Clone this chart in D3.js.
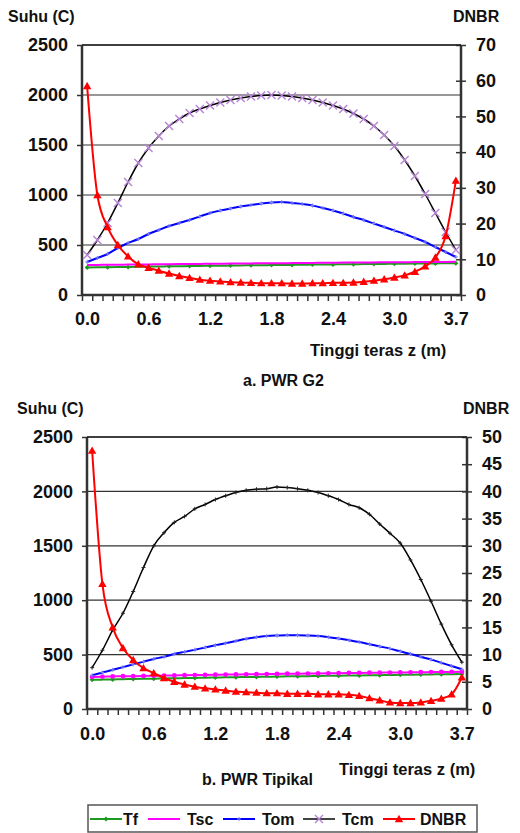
<!DOCTYPE html>
<html>
<head>
<meta charset="utf-8">
<script src="https://cdn.jsdelivr.net/npm/d3@7"></script>
<style>
  body { margin: 0; background: #fff; }
  svg { display: block; font-family: "Liberation Sans", Arial, sans-serif; }
  text { font-weight: bold; fill: #111; }
</style>
</head>
<body>
<div id="chart"></div>
<script>
// node labels on the x axis (every 6th node is labelled)
const xTickNodes = [0, 6, 12, 18, 24, 30, 36];
const xTickLabels = ["0.0", "0.6", "1.2", "1.8", "2.4", "3.0", "3.7"];
const nNodes = 37;

// a. PWR G2
const tfA = [275,277,278,280,281,283,284,285,287,288,289,291,292,293,294,296,297,298,299,300,301,303,304,305,306,307,308,309,310,311,312,313,314,315,316,317,318];
const tscA = [300,301,302,303,304,305,306,307,308,309,310,311,312,313,314,315,316,317,318,318,319,320,321,322,323,324,325,325,326,327,328,328,329,330,331,331,332];
const tomA = [330,370,410,470,520,560,610,650,690,720,750,785,820,845,865,885,900,915,925,930,920,910,895,870,845,815,780,750,715,680,645,610,570,530,480,430,380];
const tcmA = [400,550,720,920,1130,1320,1470,1590,1690,1760,1820,1860,1895,1925,1950,1970,1985,1995,2000,1995,1985,1970,1950,1925,1895,1860,1815,1760,1690,1600,1490,1350,1190,1010,820,630,450];
const dnbrA = [58.5,28,19,14,10.8,8.6,7.6,6.8,6.0,5.3,4.8,4.3,4.0,3.8,3.6,3.5,3.4,3.3,3.3,3.3,3.2,3.2,3.3,3.3,3.4,3.4,3.5,3.7,4.0,4.4,4.9,5.5,6.5,8.0,10.5,16.5,32];

// b. PWR Tipikal
const tfB = [268,270,272,274,276,278,279,281,283,284,286,288,289,291,292,294,295,297,298,300,301,302,304,305,306,308,309,310,311,313,314,315,316,318,319,320,322];
const tscB = [295,297,299,301,302,304,306,307,309,310,312,313,315,316,317,319,320,321,322,324,325,326,327,328,329,331,332,333,334,335,336,337,338,339,340,341,343];
const tomB = [310,335,360,385,410,435,460,480,505,525,545,565,585,605,625,645,660,670,675,678,678,675,670,660,648,632,615,595,575,555,530,505,480,455,425,395,365];
const tcmB = [380,540,725,880,1080,1300,1500,1620,1715,1770,1840,1880,1925,1960,1990,2010,2020,2025,2040,2035,2025,2010,1990,1960,1925,1880,1850,1790,1700,1615,1525,1370,1190,990,780,590,430];
const dnbrB = [47.5,23,15,11.2,9.0,7.5,6.6,5.7,5.0,4.5,4.1,3.8,3.6,3.4,3.2,3.1,3.0,2.9,2.9,2.8,2.8,2.8,2.7,2.7,2.7,2.6,2.4,2.0,1.6,1.2,1.1,1.1,1.2,1.5,1.9,2.7,5.8];

const tempTicks = [0, 500, 1000, 1500, 2000, 2500];
const dnbrTicksA = [0, 10, 20, 30, 40, 50, 60, 70];
const dnbrTicksB = [0, 5, 10, 15, 20, 25, 30, 35, 40, 45, 50];

const colors = { Tf: "#1f9a1f", Tsc: "#ff00ff", Tom: "#0000ff", Tcm: "#000000", DNBR: "#ff0000" };

const svg = d3.select("#chart").append("svg")
  .attr("width", 520)
  .attr("height", 833);

svg.append("rect").attr("width", 520).attr("height", 833).attr("fill", "#fff");

function marker(g, type, x, y, big) {
  if (type === "tri") {
    const s = 4.2;
    g.append("path")
      .attr("d", `M${x},${y - s}L${x + s},${y + s * 0.75}L${x - s},${y + s * 0.75}Z`)
      .attr("fill", colors.DNBR);
  } else if (type === "x") {
    const s = big ? 4 : 2;
    g.append("path")
      .attr("d", big ? `M${x - s},${y - s}L${x + s},${y + s}M${x - s},${y + s}L${x + s},${y - s}`
                     : `M${x - s},${y}L${x + s},${y}M${x},${y - s}L${x},${y + s}`)
      .attr("stroke", big ? "#b784d6" : "#222")
      .attr("stroke-width", big ? 1.4 : 1);
  } else if (type === "plus") {
    g.append("path")
      .attr("d", `M${x - 2},${y}L${x + 2},${y}M${x},${y - 2}L${x},${y + 2}`)
      .attr("stroke", "#7d7dff").attr("stroke-width", 1);
  } else if (type === "dot") {
    g.append("path")
      .attr("d", `M${x},${y - 2.5}L${x + 2.5},${y}L${x},${y + 2.5}L${x - 2.5},${y}Z`)
      .attr("fill", colors.Tf);
  } else if (type === "mdot") {
    g.append("circle").attr("cx", x).attr("cy", y).attr("r", 2.4).attr("fill", colors.Tsc);
  }
}

function drawPanel(p) {
  const g = svg.append("g");
  const x = d3.scaleLinear().domain([0, nNodes]).range([p.left, p.right]);
  const yT = d3.scaleLinear().domain([0, 2500]).range([p.bottom, p.top]);
  const yD = d3.scaleLinear().domain([0, p.dnbrMax]).range([p.bottom, p.top]);

  // gridlines
  g.selectAll(".grid").data(tempTicks.slice(1)).enter().append("line")
    .attr("x1", p.left).attr("x2", p.right)
    .attr("y1", d => yT(d)).attr("y2", d => yT(d))
    .attr("stroke", "#333").attr("stroke-width", 1.2);

  // left axis
  const la = g.append("g").attr("transform", `translate(${p.left},0)`)
    .call(d3.axisLeft(yT).tickValues(tempTicks).tickSize(5).tickPadding(9).tickFormat(d3.format("d")));
  // right axis, ticks cross the line
  const ra = g.append("g").attr("transform", `translate(${p.right},0)`)
    .call(d3.axisRight(yD).tickValues(p.dnbrTicks).tickSize(5).tickPadding(10).tickFormat(d3.format("d")));
  ra.selectAll(".tick line").attr("x1", -5);
  // bottom axis: tick marks between nodes
  const ba = g.append("g").attr("transform", `translate(0,${p.bottom})`)
    .call(d3.axisBottom(x).tickValues(d3.range(nNodes + 1)).tickSize(6).tickFormat(""));
  const bl = g.append("g").attr("transform", `translate(0,${p.bottom})`)
    .call(d3.axisBottom(x).tickValues(xTickNodes.map(d => d + 0.5)).tickSize(0).tickPadding(p.xPad)
      .tickFormat((d, i) => xTickLabels[i]));
  bl.select(".domain").remove();

  [la, ra, ba, bl].forEach(a => {
    a.selectAll("text").attr("font-size", 18).attr("font-family", null).attr("fill", "#111");
    a.selectAll(".tick line").attr("stroke", "#333").attr("stroke-width", 1.5);
    a.select(".domain").attr("stroke", "#333").attr("stroke-width", 2.5);
  });
  la.select(".domain").attr("d", `M0,${p.bottom}V${p.top}`);
  ra.select(".domain").attr("d", `M0,${p.bottom}V${p.top}`);
  ba.select(".domain").attr("d", `M${p.left},0H${p.right}`);
  g.append("line").attr("x1", p.left).attr("x2", p.right)
    .attr("y1", p.top).attr("y2", p.top).attr("stroke", "#222").attr("stroke-width", 1.6);

  const px = i => x(i + 0.5);
  const series = [
    { key: "Tf", data: p.tf, y: yT, w: 2, m: "dot" },
    { key: "Tsc", data: p.tsc, y: yT, w: 2, m: p.tscDots ? "mdot" : null },
    { key: "Tom", data: p.tom, y: yT, w: 2, m: "plus" },
    { key: "Tcm", data: p.tcm, y: yT, w: 1.5, m: "x" },
    { key: "DNBR", data: p.dnbr, y: yD, w: 2, m: "tri" }
  ];
  series.forEach(s => {
    const line = d3.line().x((d, i) => px(i)).y(d => s.y(d)).curve(d3.curveMonotoneX);
    g.append("path").datum(s.data).attr("d", line)
      .attr("fill", "none").attr("stroke", colors[s.key]).attr("stroke-width", s.w);
    if (s.m) {
      const mg = g.append("g");
      s.data.forEach((d, i) => {
        if (s.m === "dot" && i % 2) return;
        marker(mg, s.m, px(i), s.y(d), p.bigX);
      });
    }
  });

  // labels
  g.append("text").attr("x", p.suhuX).attr("y", p.labelY).attr("font-size", 16).text("Suhu (C)");
  g.append("text").attr("x", p.dnbrX).attr("y", p.labelY).attr("font-size", 16).text("DNBR");
  g.append("text").attr("x", p.zX).attr("y", p.zY).attr("font-size", 16.5).text("Tinggi teras z (m)");
  g.append("text").attr("x", p.titleX).attr("y", p.titleY).attr("font-size", 16).text(p.title);
}

drawPanel({
  left: 82, right: 461, top: 45, bottom: 295, dnbrMax: 70, dnbrTicks: dnbrTicksA, xPad: 17,
  tf: tfA, tsc: tscA, tom: tomA, tcm: tcmA, dnbr: dnbrA, bigX: true, tscDots: false,
  suhuX: 8, dnbrX: 453, labelY: 22, zX: 310, zY: 356, titleX: 243, titleY: 386, title: "a. PWR G2"
});

drawPanel({
  left: 87, right: 467, top: 437, bottom: 709, dnbrMax: 50, dnbrTicks: dnbrTicksB, xPad: 18,
  tf: tfB, tsc: tscB, tom: tomB, tcm: tcmB, dnbr: dnbrB, bigX: false, tscDots: true,
  suhuX: 17, dnbrX: 463, labelY: 414, zX: 339, zY: 775, titleX: 202, titleY: 785, title: "b. PWR Tipikal"
});

// legend
const leg = svg.append("g");
leg.append("rect").attr("x", 88).attr("y", 805).attr("width", 389).attr("height", 27)
  .attr("fill", "#fff").attr("stroke", "#555").attr("stroke-width", 1.5);
const legItems = [
  { key: "Tf", x0: 90, tx: 123, m: "dot" },
  { key: "Tsc", x0: 148, tx: 187, m: null },
  { key: "Tom", x0: 223, tx: 262, m: "plus" },
  { key: "Tcm", x0: 303, tx: 342, m: "x" },
  { key: "DNBR", x0: 383, tx: 420, m: "tri" }
];
legItems.forEach(d => {
  leg.append("line").attr("x1", d.x0).attr("x2", d.x0 + 32).attr("y1", 819).attr("y2", 819)
    .attr("stroke", d.key === "Tcm" ? "#444" : colors[d.key]).attr("stroke-width", 2);
  if (d.m) marker(leg, d.m, d.x0 + 16, 819, true);
  leg.append("text").attr("x", d.tx).attr("y", 825).attr("font-size", 16).text(d.key);
});
</script>
</body>
</html>
